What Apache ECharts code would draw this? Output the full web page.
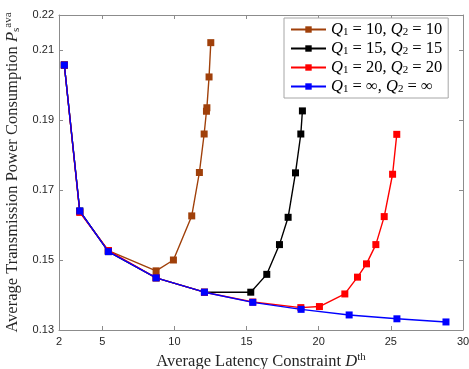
<!DOCTYPE html>
<html>
<head>
<meta charset="utf-8">
<script src="https://cdn.jsdelivr.net/npm/echarts@6/dist/echarts.min.js"></script>
<style>
  html, body { margin: 0; padding: 0; background: #fff; }
  #chart { width: 469px; height: 369px; }
</style>
</head>
<body>
<div id="chart"></div>
<script>
// tick positions
var xTicks = [2, 5, 10, 15, 20, 25, 30];
var yTicks = [0.13, 0.15, 0.17, 0.19, 0.21, 0.22];

// [latency constraint, power] for each buffer setting
var q10 = [[2.37, 0.2057], [3.44, 0.1638], [5.42, 0.1527], [8.73, 0.1469], [9.93, 0.1500], [11.20, 0.1626],
  [11.73, 0.1750], [12.06, 0.1860], [12.22, 0.1925], [12.25, 0.1935], [12.40, 0.2023], [12.52, 0.2121]];
var q15 = [[2.37, 0.2057], [3.44, 0.1640], [5.42, 0.1524], [8.73, 0.1449], [12.08, 0.1408], [15.29, 0.1408],
  [16.40, 0.1459], [17.28, 0.1544], [17.88, 0.1622], [18.39, 0.1749], [18.76, 0.1860], [18.87, 0.1926]];
var q20 = [[2.37, 0.2057], [3.44, 0.1636], [5.42, 0.1527], [8.73, 0.1449], [12.08, 0.1408], [15.43, 0.1380],
  [18.76, 0.1364], [20.05, 0.1367], [21.81, 0.1403], [22.69, 0.1451], [23.31, 0.1489], [23.96, 0.1544],
  [24.54, 0.1624], [25.12, 0.1745], [25.41, 0.1859]];
var qInf = [[2.37, 0.2057], [3.44, 0.1640], [5.42, 0.1524], [8.73, 0.1449], [12.08, 0.1408], [15.43, 0.1379],
  [18.78, 0.1359], [22.11, 0.1343], [25.42, 0.1332], [28.82, 0.1323]];

var seriesNames = ['q10', 'q15', 'q20', 'qinf'];
var legendLabels = {
  q10: '{i|Q}{s|1} = 10, {i|Q}{s|2} = 10',
  q15: '{i|Q}{s|1} = 15, {i|Q}{s|2} = 15',
  q20: '{i|Q}{s|1} = 20, {i|Q}{s|2} = 20',
  qinf: '{i|Q}{s|1} = \u221e, {i|Q}{s|2} = \u221e'
};
var colors = ['#a0400a', '#000000', '#ff0000', '#0000ff'];
var allData = [q10, q15, q20, qInf];

var serif = 'Liberation Serif';
var axisCol = '#8c8c8c';
var labelCol = '#262626';

function mkSeries(i) {
  return {
    name: seriesNames[i],
    type: 'line',
    data: allData[i],
    symbol: 'rect',
    symbolSize: 7,
    showAllSymbol: true,
    animation: false,
    lineStyle: { color: colors[i], width: 1.4 },
    itemStyle: { color: colors[i] },
    z: 2 + i
  };
}

var chart = echarts.init(document.getElementById('chart'));
var option = {
  backgroundColor: '#fff',
  animation: false,
  grid: { left: 59, right: 6, top: 15, bottom: 39, outerBoundsMode: 'none', containLabel: false },
  legend: {
    data: seriesNames,
    orient: 'vertical',
    left: 284,
    top: 18,
    padding: [3, 6, 3, 6],
    itemGap: 2,
    itemWidth: 35,
    itemHeight: 8,
    backgroundColor: '#fff',
    borderColor: '#a6a6a6',
    borderWidth: 1,
    borderRadius: 0,
    formatter: function (n) { return legendLabels[n]; },
    textStyle: {
      fontFamily: serif, fontSize: 16.5, color: '#000', lineHeight: 16,
      rich: {
        i: { fontFamily: serif, fontStyle: 'italic', fontSize: 16.5, lineHeight: 16 },
        s: { fontFamily: serif, fontSize: 11, verticalAlign: 'bottom', padding: [3, 0, 0, 0], lineHeight: 14 }
      }
    }
  },
  xAxis: [{
    type: 'value', min: 2, max: 30,
    name: 'Average Latency Constraint {i|D}{sup|th}',
    nameLocation: 'middle', nameGap: 18,
    nameTextStyle: {
      fontFamily: serif, fontSize: 16.5, color: labelCol,
      rich: {
        i: { fontFamily: serif, fontStyle: 'italic', fontSize: 16.5, color: labelCol },
        sup: { fontFamily: serif, fontSize: 11, verticalAlign: 'top', padding: [0, 0, 8, 0], color: labelCol }
      }
    },
    axisLine: { show: true, lineStyle: { color: axisCol, width: 1 } },
    axisTick: { show: true, inside: true, length: 4, customValues: xTicks, lineStyle: { color: axisCol } },
    axisLabel: { customValues: xTicks, fontFamily: 'Liberation Sans', fontSize: 11, color: labelCol, margin: 6 },
    splitLine: { show: false }
  }, {
    type: 'value', min: 2, max: 30, position: 'top',
    axisLine: { show: true, lineStyle: { color: axisCol, width: 1 } },
    axisTick: { show: true, inside: true, length: 4, customValues: xTicks, lineStyle: { color: axisCol } },
    axisLabel: { show: false },
    splitLine: { show: false }
  }],
  yAxis: [{
    type: 'value', min: 0.13, max: 0.22,
    name: 'Average Transmission Power Consumption {i|P}{sub|s}{sup|ava}',
    nameLocation: 'middle', nameGap: 32, nameRotate: 90,
    nameTextStyle: {
      fontFamily: serif, fontSize: 16.5, color: labelCol,
      rich: {
        i: { fontFamily: serif, fontStyle: 'italic', fontSize: 16.5, color: labelCol },
        sub: { fontFamily: serif, fontSize: 11, verticalAlign: 'bottom', padding: [6, 0, 0, 0], color: labelCol },
        sup: { fontFamily: serif, fontSize: 11, verticalAlign: 'top', padding: [0, 0, 8, 0], color: labelCol }
      }
    },
    axisLine: { show: true, lineStyle: { color: axisCol, width: 1 } },
    axisTick: { show: true, inside: true, length: 4, customValues: yTicks, lineStyle: { color: axisCol } },
    axisLabel: {
      customValues: yTicks, fontFamily: 'Liberation Sans', fontSize: 11, color: labelCol, margin: 5,
      formatter: function (v) { return v.toFixed(2); }
    },
    splitLine: { show: false }
  }, {
    type: 'value', min: 0.13, max: 0.22, position: 'right',
    axisLine: { show: true, lineStyle: { color: axisCol, width: 1 } },
    axisTick: { show: true, inside: true, length: 4, customValues: yTicks, lineStyle: { color: axisCol } },
    axisLabel: { show: false },
    splitLine: { show: false }
  }],
  series: [mkSeries(0), mkSeries(1), mkSeries(2), mkSeries(3)]
};
chart.setOption(option);
</script>
</body>
</html>
